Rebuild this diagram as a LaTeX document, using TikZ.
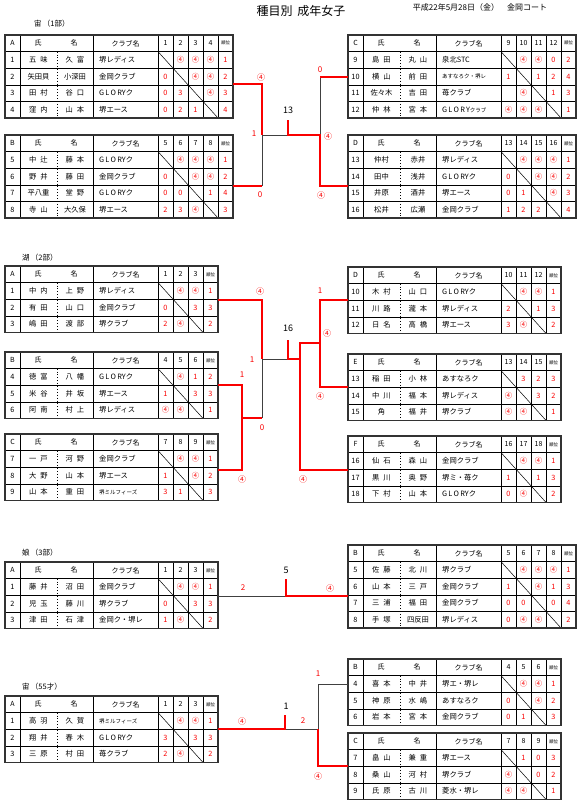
\documentclass[tikz,border=0pt]{standalone}
\usepackage{fontspec}
\setmainfont{Noto Sans CJK JP}
\definecolor{rd}{RGB}{250,0,0}
\tikzset{
 tx/.style={inner sep=0pt, font=\fontsize{7.3}{8}\selectfont},
 sc/.style={inner sep=0pt, text=rd, font=\fontsize{7.3}{8}\selectfont},
 hd/.style={inner sep=0pt, font=\fontsize{7}{8}\selectfont},
 tinyhd/.style={inner sep=0pt, font=\fontsize{4.5}{5}\selectfont},
 gl/.style={line width=0.6pt, black},
 gb/.style={line width=1.3pt, black!80},
 dl/.style={line width=0.5pt, black},
 dt/.style={line width=0.9pt, dotted, black},
 win/.style={line width=1.8pt, rd},
 lose/.style={line width=0.7pt, black!75},
 lab/.style={inner sep=0pt, text=rd, font=\fontsize{8}{9}\selectfont},
 mno/.style={inner sep=0pt, font=\fontsize{9}{10}\selectfont},
 sec/.style={inner sep=0pt, anchor=west, font=\fontsize{7.5}{8}\selectfont},
}
\newcommand\js{\hspace{4pt}}
\newcommand\smtxt[1]{{\fontsize{5.5}{6}\selectfont #1}}
\newcommand\glory{G\,L\,O\,RYク}
\newcommand\TTab[6]{%
 \def\tbN{#1}\def\tbX{#2}\def\tbY{#3}\def\tbC{#4}\def\tbS{#6}%
 \pgfmathsetmacro\tbW{168+15*#4}%
 \pgfmathsetmacro\tbH{16.6*(#4+1)}%
 \foreach \i in {1,...,#4} {\draw[gl] (#2,#3+16.6*\i) -- ++(\tbW,0);}
 \foreach \xx in {15,88,153} {\draw[gl] (#2+\xx,#3) -- ++(0,\tbH);}
 \foreach \k in {1,...,#4} {\draw[gl] (#2+153+15*\k,#3) -- ++(0,\tbH);}
 \draw[dt] (#2+52,#3+16.6) -- (#2+52,#3+\tbH);
 \draw[dl] (#2+153,#3+16.6) -- (#2+153+15*#4,#3+\tbH);
 \draw[gb] (#2,#3) rectangle ++(\tbW,\tbH);
 \node[hd] (#1h0) at (#2+7.5,#3+8.3) {#5};
 \node[hd] (#1h1) at (#2+33,#3+8.3) {氏};
 \node[hd] (#1h2) at (#2+69,#3+8.3) {名};
 \node[hd] (#1h3) at (#2+120.5,#3+8.3) {クラブ名};
 \foreach \k in {1,...,#4} {\pgfmathtruncatemacro\tbHn{#6+\k-1}\node[hd] (#1hn\k) at (#2+145.5+15*\k,#3+8.3) {\tbHn};}
 \node[tinyhd] (#1hr) at (#2+160.5+15*#4,#3+8.3) {順位};
}
\newcommand\TRow[6]{%
 \pgfmathsetmacro\tbYc{\tbY+16.6*(#1+0.5)}%
 \pgfmathtruncatemacro\tbRn{\tbS+#1-1}%
 \node[tx] (\tbN n#1) at (\tbX+7.5,\tbYc) {\tbRn};
 \node[tx] (\tbN s#1) at (\tbX+33.5,\tbYc) {#2};
 \node[tx] (\tbN g#1) at (\tbX+70,\tbYc) {#3};
 \node[tx,anchor=west] (\tbN c#1) at (\tbX+94,\tbYc) {#4};
 \foreach \s [count=\k] in {#5} {\node[sc] (\tbN x#1-\k) at (\tbX+145.5+15*\k,\tbYc) {\s};}
 \node[sc] (\tbN r#1) at (\tbX+160.5+15*\tbC,\tbYc) {#6};
}
\begin{document}
\begin{tikzpicture}[x=1pt,y=-1pt]
\useasboundingbox (0,0) rectangle (580,811);
\fill[white] (0,0) rectangle (580,811);
\node[inner sep=0pt, font=\fontsize{12}{13}\selectfont] (title) at (301,11) {種目別\hspace{5pt}成年女子};
\node[inner sep=0pt, font=\fontsize{8}{9}\selectfont] (date) at (480,7) {平成22年5月28日（金）\hspace{8pt}金岡コート};

% ===== Section 1
\node[sec] (s1) at (34,24) {宙\,（1部）};
\TTab{A1}{5}{35}{4}{A}{1}
\TRow{1}{五\js 味}{久\js 富}{堺レディス}{{},④,④,④}{1}
\TRow{2}{矢田貝}{小深田}{金岡クラブ}{0,{},④,④}{2}
\TRow{3}{田\js 村}{谷\js 口}{\glory}{0,3,{},④}{3}
\TRow{4}{窪\js 内}{山\js 本}{堺エース}{0,2,1,{}}{4}
\TTab{B1}{5}{135}{4}{B}{5}
\TRow{1}{中\js 辻}{藤\js 本}{\glory}{{},④,④,④}{1}
\TRow{2}{野\js 井}{藤\js 田}{金岡クラブ}{0,{},④,④}{2}
\TRow{3}{平八重}{堂\js 野}{\glory}{0,0,{},1}{4}
\TRow{4}{寺\js 山}{大久保}{堺エース}{2,3,④,{}}{3}
\TTab{C1}{348}{35}{4}{C}{9}
\TRow{1}{島\js 田}{丸\js 山}{泉北STC}{{},④,④,0}{2}
\TRow{2}{横\js 山}{前\js 田}{\smtxt{あすなろク・堺レ}}{1,{},1,2}{4}
\TRow{3}{佐々木}{吉\js 田}{苺クラブ}{{},④,{},1}{3}
\TRow{4}{仲\js 林}{宮\js 本}{G\,L\,O\,R\,Y\smtxt{クラブ}}{④,④,④,{}}{1}
\TTab{D1}{348}{135}{4}{D}{13}
\TRow{1}{仲村}{赤井}{堺レディス}{{},④,④,④}{1}
\TRow{2}{田中}{浅井}{\glory}{0,{},④,④}{2}
\TRow{3}{井原}{酒井}{堺エース}{0,1,{},④}{3}
\TRow{4}{松井}{広瀬}{金岡クラブ}{1,2,2,{}}{4}

\coordinate (a1) at (233,84); \coordinate (a1j) at (262,84);
\coordinate (b1) at (233,186); \coordinate (b1j) at (262,186);
\coordinate (l1) at (262,135);
\coordinate (c1) at (348,77); \coordinate (c1j) at (320,77);
\coordinate (d1) at (348,186); \coordinate (d1j) at (320,186);
\coordinate (r1) at (320,135);
\coordinate (m1) at (288,135); \coordinate (t1) at (288,120);
\draw[lose] (b1j) -- (l1) -- (m1);
\draw[lose] (c1j) -- (r1);
\draw[win] (a1) -- (a1j) -- (l1);
\draw[win] (b1) -- (b1j);
\draw[win] (c1) -- (c1j);
\draw[win] (d1) -- (d1j) -- (r1) -- (m1) -- (t1);
\node[lab] (q1a) at (261,77) {④};
\node[lab] (q1b) at (260,195) {0};
\node[lab] (q1l) at (254,134) {1};
\node[mno] (n13) at (288,110) {13};
\node[lab] (q1c) at (320,70) {0};
\node[lab] (q1r) at (328,136) {④};
\node[lab] (q1d) at (321,195) {④};

% ===== Section 2
\node[sec] (s2) at (22,258) {湖\,（2部）};
\TTab{A2}{5}{266}{3}{A}{1}
\TRow{1}{中\js 内}{上\js 野}{堺レディス}{{},④,④}{1}
\TRow{2}{有\js 田}{山\js 口}{金岡クラブ}{0,{},3}{3}
\TRow{3}{嶋\js 田}{渡\js 部}{堺クラブ}{2,④,{}}{2}
\TTab{B2}{5}{352}{3}{B}{4}
\TRow{1}{徳\js 富}{八\js 幡}{\glory}{{},④,1}{2}
\TRow{2}{米\js 谷}{井\js 坂}{堺エース}{1,{},3}{3}
\TRow{3}{阿\js 南}{村\js 上}{堺レディス}{④,④,{}}{1}
\TTab{C2}{5}{434}{3}{C}{7}
\TRow{1}{一\js 戸}{河\js 野}{金岡クラブ}{{},④,④}{1}
\TRow{2}{大\js 野}{山\js 本}{堺エース}{1,{},④}{2}
\TRow{3}{山\js 本}{重\js 田}{\smtxt{堺ミルフィーズ}}{3,1,{}}{3}
\TTab{D2}{348}{267}{3}{D}{10}
\TRow{1}{木\js 村}{山\js 口}{\glory}{{},④,④}{1}
\TRow{2}{川\js 路}{瀧\js 本}{堺レディス}{2,{},1}{3}
\TRow{3}{日\js 名}{高\js 橋}{堺エース}{3,④,{}}{2}
\TTab{E2}{348}{354}{3}{E}{13}
\TRow{1}{稲\js 田}{小\js 林}{あすなろク}{{},3,2}{3}
\TRow{2}{中\js 川}{福\js 本}{堺レディス}{④,{},3}{2}
\TRow{3}{角}{福\js 井}{堺クラブ}{④,④,{}}{1}
\TTab{F2}{348}{436}{3}{F}{16}
\TRow{1}{仙\js 石}{森\js 山}{金岡クラブ}{{},④,④}{1}
\TRow{2}{黒\js 川}{奥\js 野}{堺ミ・苺ク}{1,{},1}{3}
\TRow{3}{下\js 村}{山\js 本}{\glory}{0,④,{}}{2}

\coordinate (a2) at (218,300); \coordinate (a2j) at (262,300);
\coordinate (b2) at (218,385); \coordinate (b2j) at (242,385);
\coordinate (c2) at (218,470); \coordinate (c2j) at (242,470);
\coordinate (bc2) at (242,418); \coordinate (bc2j) at (262,418);
\coordinate (l2) at (262,359); \coordinate (m2) at (288,359); \coordinate (t2) at (288,340);
\coordinate (d2) at (348,300); \coordinate (d2j) at (320,300);
\coordinate (e2) at (348,387); \coordinate (e2j) at (320,387);
\coordinate (de2) at (320,343); \coordinate (de2j) at (300,343);
\coordinate (f2) at (348,470); \coordinate (f2j) at (300,470);
\coordinate (r2) at (300,359);
\draw[lose] (bc2j) -- (l2);
\draw[lose] (l2) -- (m2);
\draw[win] (a2) -- (a2j) -- (l2);
\draw[win] (b2) -- (b2j) -- (c2j) -- (c2);
\draw[win] (bc2) -- (bc2j);
\draw[win] (d2) -- (d2j) -- (e2j) -- (e2);
\draw[win] (de2) -- (de2j) -- (f2j) -- (f2);
\draw[win] (r2) -- (m2) -- (t2);
\node[lab] (q2a) at (260,291) {④};
\node[lab] (q2b) at (242,375) {1};
\node[lab] (q2c) at (242,479) {④};
\node[lab] (q2bc) at (262,428) {0};
\node[lab] (q2l) at (252,360) {1};
\node[mno] (n16) at (288,328) {16};
\node[lab] (q2d) at (320,291) {1};
\node[lab] (q2e) at (320,396) {④};
\node[lab] (q2de) at (327,333) {④};
\node[lab] (q2f) at (303,479) {④};

% ===== Section 3
\node[sec] (s3) at (22,553) {娘\,（3部）};
\TTab{A3}{5}{562}{3}{A}{1}
\TRow{1}{藤\js 井}{沼\js 田}{金岡クラブ}{{},④,④}{1}
\TRow{2}{児\js 玉}{藤\js 川}{堺クラブ}{0,{},3}{3}
\TRow{3}{津\js 田}{石\js 津}{金岡ク・堺レ}{1,④,{}}{2}
\TTab{B3}{348}{545}{4}{B}{5}
\TRow{1}{佐\js 藤}{北\js 川}{堺クラブ}{{},④,④,④}{1}
\TRow{2}{山\js 本}{三\js 戸}{金岡クラブ}{1,{},④,1}{3}
\TRow{3}{三\js 浦}{福\js 田}{金岡クラブ}{0,0,{},0}{4}
\TRow{4}{手\js 塚}{四反田}{堺レディス}{0,④,④,{}}{2}
\coordinate (a3) at (218,596); \coordinate (m3) at (286,596);
\coordinate (t3) at (286,579); \coordinate (b3) at (348,596);
\draw[lose] (a3) -- (m3);
\draw[win] (b3) -- (m3) -- (t3);
\node[mno] (n5) at (286,570) {5};
\node[lab] (q3a) at (243,588) {2};
\node[lab] (q3b) at (330,588) {④};

% ===== Section 4
\node[sec] (s4) at (22,687) {宙\,（55才）};
\TTab{A4}{5}{696}{3}{A}{1}
\TRow{1}{高\js 羽}{久\js 賀}{\smtxt{堺ミルフィーズ}}{{},④,④}{1}
\TRow{2}{翔\js 井}{春\js 木}{\glory}{3,{},3}{3}
\TRow{3}{三\js 原}{村\js 田}{苺クラブ}{2,④,{}}{2}
\TTab{B4}{348}{659}{3}{B}{4}
\TRow{1}{喜\js 本}{中\js 井}{堺エ・堺レ}{{},④,④}{1}
\TRow{2}{神\js 原}{水\js 嶋}{あすなろク}{0,{},④}{2}
\TRow{3}{岩\js 本}{宮\js 本}{金岡クラブ}{0,1,{}}{3}
\TTab{C4}{348}{733}{3}{C}{7}
\TRow{1}{畠\js 山}{兼\js 重}{堺エース}{{},1,0}{3}
\TRow{2}{桑\js 山}{河\js 村}{堺クラブ}{④,{},0}{2}
\TRow{3}{氏\js 原}{古\js 川}{菱水・堺レ}{④,④,{}}{1}
\coordinate (a4) at (218,729); \coordinate (m4) at (285,729); \coordinate (t4) at (285,715);
\coordinate (b4) at (348,684); \coordinate (b4j) at (318,684);
\coordinate (c4) at (348,766); \coordinate (c4j) at (318,766);
\coordinate (r4) at (318,729);
\draw[lose] (b4) -- (b4j) -- (r4) -- (m4);
\draw[win] (c4) -- (c4j) -- (r4);
\draw[win] (a4) -- (m4) -- (t4);
\node[mno] (n1) at (286,706) {1};
\node[lab] (q4a) at (242,721) {④};
\node[lab] (q4r) at (303,721) {2};
\node[lab] (q4b) at (318,674) {1};
\node[lab] (q4c) at (318,776) {④};
\end{tikzpicture}
\end{document}
